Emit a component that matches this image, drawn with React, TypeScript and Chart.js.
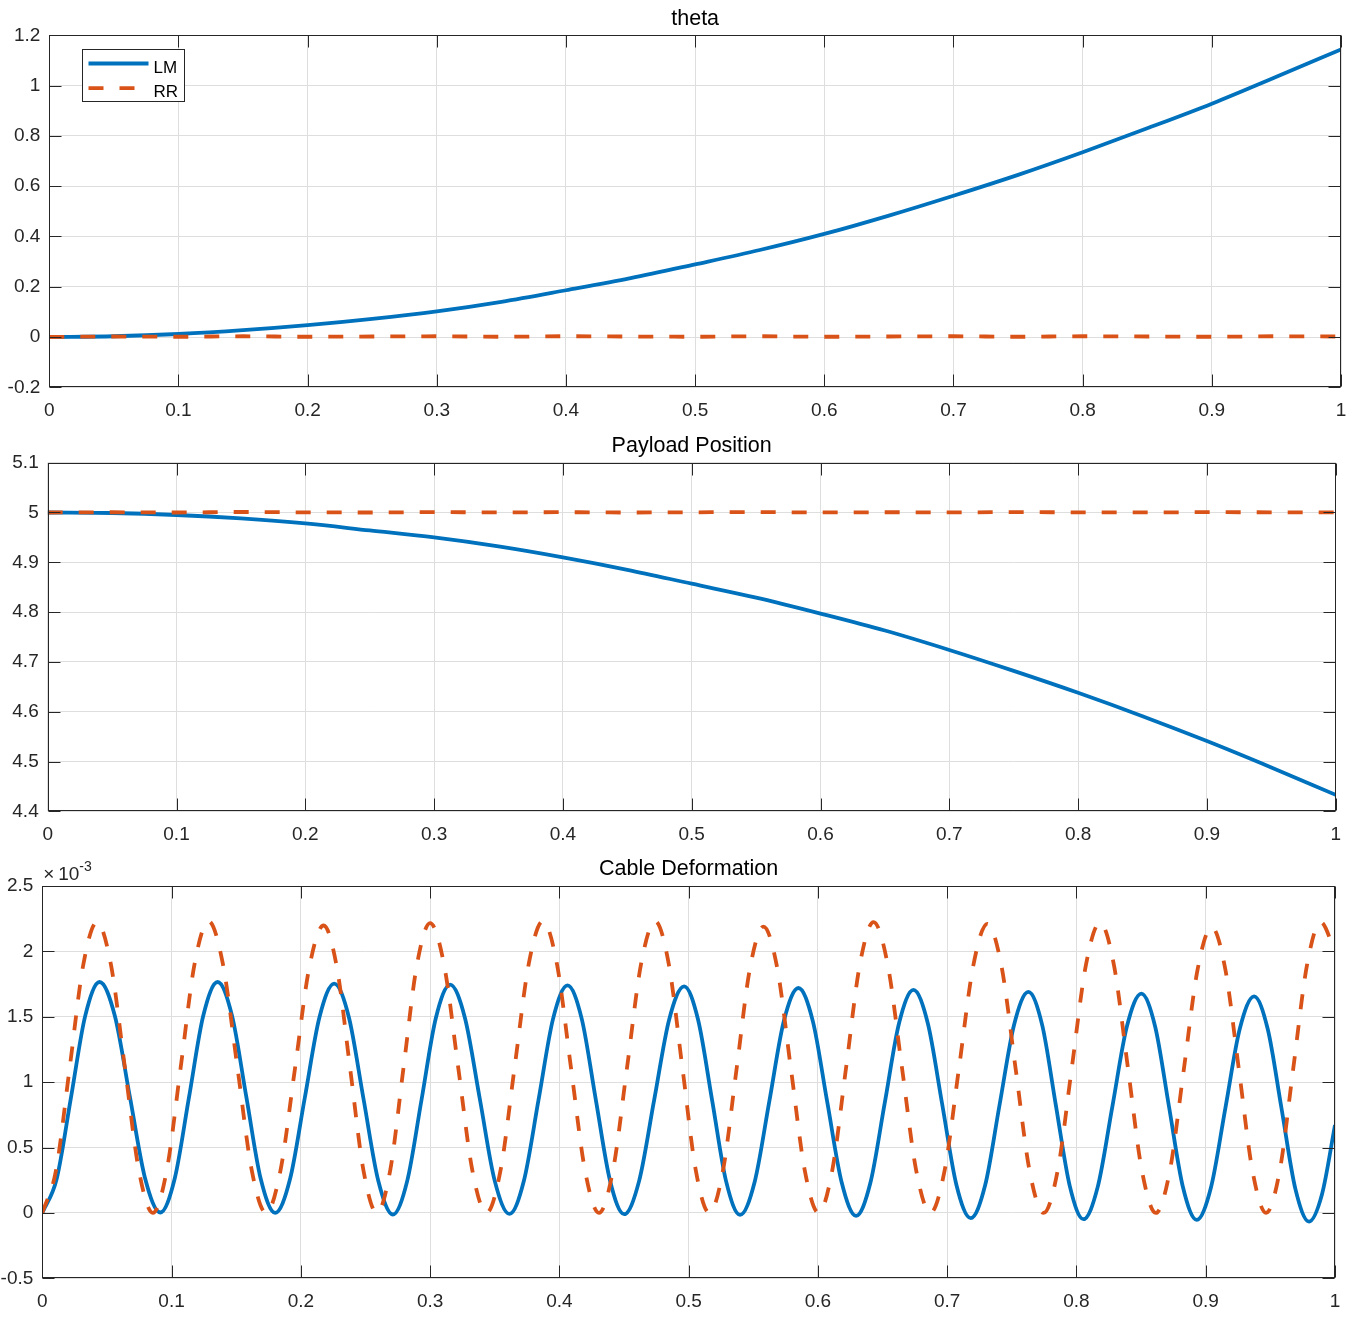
import React, { useEffect, useRef } from "react";
import { Chart, registerables } from "chart.js";

Chart.register(...registerables);

// ---------- data ----------
const seriesNames = ["LM", "RR"];
const panelTitles = ["theta", "Payload Position", "Cable Deformation"];

const xTicks = [0, 0.1, 0.2, 0.3, 0.4, 0.5, 0.6, 0.7, 0.8, 0.9, 1];
const thetaTicks = [-0.2, 0, 0.2, 0.4, 0.6, 0.8, 1, 1.2];
const payloadTicks = [4.4, 4.5, 4.6, 4.7, 4.8, 4.9, 5, 5.1];
const cableTicks = [-0.5, 0, 0.5, 1, 1.5, 2, 2.5];

const thetaT = [0, 0.05, 0.1, 0.15, 0.2, 0.25, 0.3, 0.35, 0.4, 0.45, 0.5, 0.55, 0.6, 0.65, 0.7, 0.75, 0.8, 0.85, 0.9, 0.95, 1];
const thetaLM = [0, 0.003, 0.012, 0.027, 0.047, 0.072, 0.102, 0.14, 0.186, 0.234, 0.289, 0.346, 0.41, 0.483, 0.562, 0.645, 0.735, 0.83, 0.928, 1.035, 1.144];
const thetaRR = [0, 0.002, 0.001, 0.003, 0.001, 0.002, 0.003, 0.001, 0.003, 0.002, 0.001, 0.003, 0.001, 0.002, 0.003, 0.001, 0.003, 0.002, 0.001, 0.003, 0.002];

const payloadT = [0, 0.05, 0.1, 0.15, 0.2, 0.25, 0.3, 0.35, 0.4, 0.45, 0.5, 0.55, 0.6, 0.65, 0.7, 0.75, 0.8, 0.85, 0.9, 0.95, 1];
const payloadLM = [5, 4.999, 4.995, 4.988, 4.978, 4.964, 4.95, 4.932, 4.91, 4.885, 4.857, 4.829, 4.797, 4.763, 4.724, 4.682, 4.638, 4.591, 4.541, 4.488, 4.433];
const payloadRR = [5, 5.0005, 5, 5.001, 5.0003, 5, 5.0008, 5.0002, 5.0006, 5, 5.0004, 5.0008, 5.0001, 5.0005, 5.0002, 5.0007, 5.0003, 5.0001, 5.0006, 5.0004, 5.0002];

// cable deformation, values in units of 1e-3
const cableLmT = [
  0, 0.0111, 0.0222, 0.0332,
  0.0443, 0.0561, 0.0678, 0.0796,
  0.0913, 0.1024, 0.1135, 0.1245,
  0.1356, 0.1468, 0.1579, 0.169,
  0.1802, 0.1916, 0.203, 0.2144,
  0.2258, 0.2372, 0.2485, 0.2599,
  0.2712, 0.2823, 0.2934, 0.3044,
  0.3155, 0.327, 0.3385, 0.3499,
  0.3614, 0.3726, 0.3839, 0.3951,
  0.4063, 0.4173, 0.4282, 0.4392,
  0.4501, 0.4617, 0.4733, 0.4849,
  0.4965, 0.5073, 0.5182, 0.529,
  0.5398, 0.5511, 0.5624, 0.5736,
  0.5849, 0.5961, 0.6072, 0.6184,
  0.6295, 0.6406, 0.6517, 0.6628,
  0.6739, 0.685, 0.6961, 0.7071,
  0.7182, 0.7294, 0.7405, 0.7517,
  0.7628, 0.7735, 0.7841, 0.7948,
  0.8054, 0.8166, 0.8278, 0.839,
  0.8502, 0.8609, 0.8716, 0.8823,
  0.893, 0.9041, 0.9152, 0.9263,
  0.9374, 0.948, 0.9587, 0.9693,
  0.9799, 0.99, 1,
];
const cableLmE3 = [
  0, 0.259, 0.883, 1.507,
  1.766, 1.508, 0.885, 0.261,
  0.003, 0.261, 0.885, 1.508,
  1.766, 1.507, 0.883, 0.259,
  0, 0.257, 0.877, 1.496,
  1.753, 1.495, 0.871, 0.246,
  -0.012, 0.245, 0.867, 1.489,
  1.746, 1.489, 0.869, 0.249,
  -0.008, 0.248, 0.866, 1.484,
  1.74, 1.484, 0.865, 0.246,
  -0.01, 0.245, 0.862, 1.478,
  1.733, 1.477, 0.859, 0.241,
  -0.015, 0.239, 0.853, 1.466,
  1.72, 1.465, 0.849, 0.232,
  -0.023, 0.23, 0.841, 1.452,
  1.705, 1.45, 0.833, 0.216,
  -0.04, 0.213, 0.825, 1.437,
  1.69, 1.436, 0.821, 0.207,
  -0.048, 0.205, 0.815, 1.425,
  1.677, 1.424, 0.812, 0.2,
  -0.053, 0.197, 0.802, 1.406,
  1.656, 1.404, 0.795, 0.186,
  -0.066, 0.145, 0.672,
];
const cableRrT = [
  0, 0.0106, 0.0212, 0.0317,
  0.0423, 0.0531, 0.0639, 0.0747,
  0.0855, 0.0963, 0.1071, 0.1178,
  0.1286, 0.1397, 0.1509, 0.162,
  0.1731, 0.1842, 0.1954, 0.2065,
  0.2176, 0.2279, 0.2382, 0.2485,
  0.2588, 0.2691, 0.2794, 0.2897,
  0.3, 0.3109, 0.3218, 0.3327,
  0.3436, 0.3545, 0.3654, 0.3763,
  0.3872, 0.3981, 0.4089, 0.4198,
  0.4306, 0.4415, 0.4524, 0.4632,
  0.4741, 0.4846, 0.4951, 0.5055,
  0.516, 0.5265, 0.537, 0.5474,
  0.5579, 0.5686, 0.5792, 0.5899,
  0.6005, 0.6111, 0.6218, 0.6324,
  0.643, 0.654, 0.665, 0.676,
  0.687, 0.698, 0.7091, 0.7201,
  0.7311, 0.742, 0.7529, 0.7637,
  0.7746, 0.7855, 0.7964, 0.8073,
  0.8182, 0.829, 0.8398, 0.8506,
  0.8614, 0.8722, 0.883, 0.8938,
  0.9046, 0.9151, 0.9257, 0.9362,
  0.9467, 0.9573, 0.9678, 0.9784,
  0.9889, 1,
];
const cableRrE3 = [
  0, 0.326, 1.112, 1.898,
  2.224, 1.898, 1.112, 0.326,
  0, 0.327, 1.116, 1.904,
  2.231, 1.904, 1.116, 0.327,
  0, 0.322, 1.099, 1.876,
  2.198, 1.876, 1.099, 0.322,
  0, 0.324, 1.108, 1.892,
  2.216, 1.892, 1.108, 0.324,
  0, 0.327, 1.116, 1.904,
  2.231, 1.904, 1.116, 0.327,
  0, 0.327, 1.116, 1.904,
  2.231, 1.904, 1.116, 0.327,
  0, 0.321, 1.095, 1.869,
  2.19, 1.869, 1.095, 0.321,
  0, 0.326, 1.112, 1.898,
  2.224, 1.898, 1.112, 0.326,
  0, 0.324, 1.106, 1.887,
  2.211, 1.887, 1.106, 0.324,
  0, 0.325, 1.11, 1.895,
  2.22, 1.895, 1.11, 0.325,
  0, 0.32, 1.093, 1.866,
  2.186, 1.866, 1.093, 0.32,
  0, 0.326, 1.112, 1.898,
  2.224, 2.0,
];

// ---------- styling ----------
const FONT = '"Liberation Sans", Arial, Helvetica, sans-serif';
const BLUE = "#0072BD";
const ORANGE = "#D95319";
const AXIS = "#262626";
const GRID = "#dedede";
const LINE_W = 3.8;
const DASH = [15, 16];

const toPts = (xs: number[], ys: number[]) => xs.map((x, i) => ({ x, y: ys[i] }));
const fmt = (v: any) => String(+Number(v).toFixed(4));

const framePlugin = {
  id: "frame",
  afterDatasetsDraw(chart: any, _args: any, opts: any) {
    const { ctx, chartArea: a, scales } = chart;
    ctx.save();
    ctx.strokeStyle = AXIS;
    ctx.lineWidth = 1;
    ctx.setLineDash([]);
    const L = Math.round(a.left) + 0.5;
    const R = Math.round(a.right) - 0.5;
    const T = Math.round(a.top) + 0.5;
    const B = Math.round(a.bottom) - 0.5;
    ctx.beginPath();
    for (const t of scales.x.ticks) {
      const px = Math.round(scales.x.getPixelForValue(t.value)) + 0.5;
      ctx.moveTo(px, B);
      ctx.lineTo(px, B - 12);
      ctx.moveTo(px, T);
      ctx.lineTo(px, T + 12);
    }
    for (const t of scales.y.ticks) {
      const py = Math.round(scales.y.getPixelForValue(t.value)) + 0.5;
      ctx.moveTo(L, py);
      ctx.lineTo(L + 12, py);
      ctx.moveTo(R, py);
      ctx.lineTo(R - 12, py);
    }
    ctx.stroke();
    ctx.strokeRect(L, T, R - L, B - T);

    if (opts && opts.exponent) {
      ctx.fillStyle = AXIS;
      ctx.textBaseline = "alphabetic";
      ctx.textAlign = "left";
      ctx.font = `19px ${FONT}`;
      ctx.fillText("\u00d7", a.left + 1, a.top - 6);
      ctx.fillText("10", a.left + 16, a.top - 6);
      ctx.font = `14px ${FONT}`;
      ctx.fillText("-3", a.left + 37, a.top - 15);
    }

    if (opts && opts.legend) {
      const bx = Math.round(a.left + 33) + 0.5;
      const by = Math.round(a.top + 14) + 0.5;
      const bw = 102;
      const bh = 52;
      ctx.fillStyle = "#ffffff";
      ctx.fillRect(bx, by, bw, bh);
      ctx.strokeStyle = AXIS;
      ctx.lineWidth = 1;
      ctx.strokeRect(bx, by, bw, bh);
      const rows = [
        { ly: 14, ty: 23.7 },
        { ly: 38.7, ty: 47 },
      ];
      chart.data.datasets.forEach((ds: any, i: number) => {
        const r = rows[i];
        ctx.save();
        ctx.strokeStyle = ds.borderColor;
        ctx.lineWidth = LINE_W;
        ctx.setLineDash(ds.borderDash || []);
        ctx.beginPath();
        ctx.moveTo(bx + 6, by + r.ly);
        ctx.lineTo(bx + 66, by + r.ly);
        ctx.stroke();
        ctx.restore();
        ctx.fillStyle = "#000000";
        ctx.font = `17px ${FONT}`;
        ctx.textAlign = "left";
        ctx.textBaseline = "alphabetic";
        ctx.fillText(ds.label, bx + 71, by + r.ty);
      });
    }
    ctx.restore();
  },
};

type Panel = {
  title: string;
  lm: { x: number; y: number }[];
  rr: { x: number; y: number }[];
  yTicks: number[];
  top: number;
  height: number;
  left: number;
  padRight: number;
  padTop: number;
  bottomH: number;
  legend?: boolean;
  exponent?: boolean;
};

const panels: Panel[] = [
  {
    title: panelTitles[0],
    lm: toPts(thetaT, thetaLM),
    rr: toPts(thetaT, thetaRR),
    yTicks: thetaTicks,
    top: 0,
    height: 427,
    left: 49.3,
    padRight: 24,
    padTop: 0,
    bottomH: 39.7,
    legend: true,
  },
  {
    title: panelTitles[1],
    lm: toPts(payloadT, payloadLM),
    rr: toPts(payloadT, payloadRR),
    yTicks: payloadTicks,
    top: 427,
    height: 423,
    left: 47.7,
    padRight: 29.3,
    padTop: 0.4,
    bottomH: 38.7,
  },
  {
    title: panelTitles[2],
    lm: toPts(cableLmT, cableLmE3),
    rr: toPts(cableRrT, cableRrE3),
    yTicks: cableTicks,
    top: 850,
    height: 483,
    left: 42.3,
    padRight: 30,
    padTop: 0.7,
    bottomH: 54.7,
    exponent: true,
  },
];

function makeChart(canvas: HTMLCanvasElement, p: Panel) {
  const tickFont = { family: FONT, size: 19 };
  return new Chart(canvas, {
    type: "line",
    data: {
      datasets: [
        {
          label: seriesNames[0],
          data: p.lm,
          borderColor: BLUE,
          backgroundColor: BLUE,
          borderWidth: LINE_W,
          pointRadius: 0,
          cubicInterpolationMode: "monotone",
          fill: false,
          order: 1,
        },
        {
          label: seriesNames[1],
          data: p.rr,
          borderColor: ORANGE,
          backgroundColor: ORANGE,
          borderWidth: LINE_W,
          borderDash: DASH,
          pointRadius: 0,
          cubicInterpolationMode: "monotone",
          fill: false,
          order: 0,
        },
      ],
    },
    options: {
      responsive: false,
      maintainAspectRatio: false,
      animation: false,
      events: [],
      layout: { padding: { top: p.padTop, right: p.padRight, left: 0, bottom: 0 } },
      plugins: {
        legend: { display: false },
        tooltip: { enabled: false },
        title: {
          display: true,
          text: p.title,
          fullSize: false,
          color: "#000000",
          font: { family: FONT, size: 21.5, weight: "normal" },
          padding: { top: 5.9, bottom: 3.6 },
        },
        frame: { legend: !!p.legend, exponent: !!p.exponent },
      } as any,
      scales: {
        x: {
          type: "linear",
          min: xTicks[0],
          max: xTicks[xTicks.length - 1],
          afterBuildTicks: (s: any) => {
            s.ticks = xTicks.map((v) => ({ value: v }));
          },
          afterFit: (s: any) => {
            s.height = p.bottomH;
          },
          ticks: { callback: fmt, color: AXIS, font: tickFont, padding: 11.8, maxRotation: 0, autoSkip: false },
          grid: { color: GRID, drawTicks: false, lineWidth: 1 },
          border: { display: false },
        },
        y: {
          type: "linear",
          min: p.yTicks[0],
          max: p.yTicks[p.yTicks.length - 1],
          afterBuildTicks: (s: any) => {
            s.ticks = p.yTicks.map((v) => ({ value: v }));
          },
          afterFit: (s: any) => {
            s.width = p.left;
          },
          ticks: { callback: fmt, color: AXIS, font: tickFont, padding: 9, autoSkip: false },
          grid: { color: GRID, drawTicks: false, lineWidth: 1 },
          border: { display: false },
        },
      },
    } as any,
    plugins: [framePlugin as any],
  });
}

export default function App() {
  const refs = [useRef<HTMLCanvasElement>(null), useRef<HTMLCanvasElement>(null), useRef<HTMLCanvasElement>(null)];
  useEffect(() => {
    const charts = panels.map((p, i) => makeChart(refs[i].current as HTMLCanvasElement, p));
    return () => charts.forEach((c) => c.destroy());
  }, []);
  return (
    <div style={{ position: "absolute", left: 0, top: 0, width: 1365, height: 1333, background: "#ffffff", overflow: "hidden" }}>
      {panels.map((p, i) => (
        <canvas
          key={i}
          ref={refs[i]}
          width={1365}
          height={p.height}
          style={{ position: "absolute", left: 0, top: p.top, width: 1365, height: p.height, display: "block" }}
        />
      ))}
    </div>
  );
}
